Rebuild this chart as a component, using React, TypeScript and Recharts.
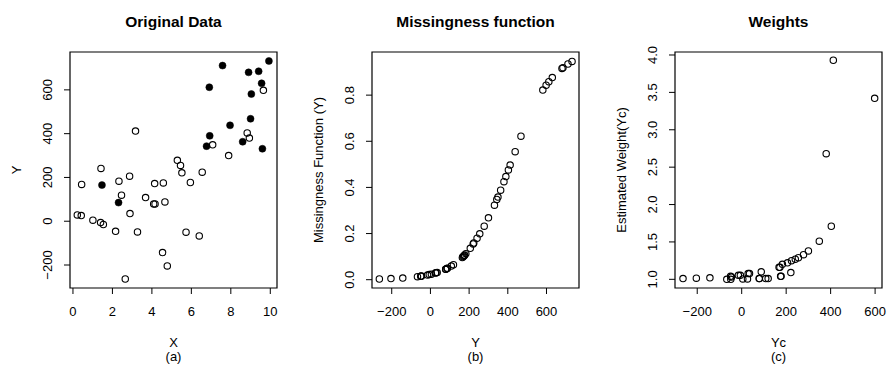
import { ScatterChart, Scatter, XAxis, YAxis, ReferenceArea } from 'recharts';

const W = 887;
const H = 365;
const BOX_TOP = 52;
const BOX_BOTTOM = 288;
const FONT = '"Liberation Sans", Arial, Helvetica, sans-serif';

// (a) Original Data: observed points (open) and missing points (filled)
const openX = [9.65, 3.17, 8.83, 8.94, 7.08, 7.89, 5.29, 5.45, 5.52, 6.55, 1.42, 2.87, 0.44, 2.33, 4.14, 4.58, 5.95, 2.46, 3.68, 4.66, 4.09, 4.16, 0.22, 0.42, 1.01, 1.4, 1.54, 2.89, 2.16, 3.27, 5.73, 6.4, 4.54, 4.78, 2.65];
const openY = [598, 412, 403, 380, 349, 300, 278, 255, 221, 224, 241, 206, 168, 183, 172, 175, 177, 119, 108, 88, 79, 79, 29, 26, 5, -6, -15, 35, -46, -49, -50, -67, -143, -204, -264];
const fillX = [7.58, 9.93, 8.9, 9.41, 9.56, 6.91, 9.04, 9.0, 7.96, 6.93, 6.77, 8.6, 9.6, 1.47, 2.31];
const fillY = [711, 732, 680, 685, 630, 612, 581, 468, 438, 390, 343, 363, 331, 165, 85];

// (b) Missingness function evaluated at every Y
const allY = [-264, -204, -143, -67, -50, -49, -46, -15, -6, 5, 26, 29, 35, 79, 79, 85, 88, 108, 119, 165, 168, 172, 175, 177, 183, 206, 221, 224, 241, 255, 278, 300, 331, 343, 349, 363, 380, 390, 403, 412, 438, 468, 581, 598, 612, 630, 680, 685, 711, 732];
const missP = [0.003, 0.005, 0.007, 0.013, 0.015, 0.015, 0.016, 0.02, 0.022, 0.024, 0.029, 0.03, 0.031, 0.045, 0.045, 0.048, 0.05, 0.059, 0.065, 0.096, 0.099, 0.102, 0.105, 0.107, 0.113, 0.136, 0.155, 0.159, 0.18, 0.199, 0.232, 0.268, 0.323, 0.348, 0.358, 0.388, 0.425, 0.447, 0.476, 0.497, 0.555, 0.622, 0.822, 0.843, 0.858, 0.876, 0.916, 0.919, 0.935, 0.946];

// (c) Estimated weights for the observed Yc
const ycVals = [-264, -204, -143, -67, -50, -49, -46, -15, -6, 5, 26, 29, 35, 79, 79, 88, 108, 119, 168, 172, 175, 177, 183, 206, 221, 224, 241, 255, 278, 300, 349, 380, 403, 412, 598];
const weights = [1.01, 1.015, 1.02, 1.0, 1.04, 1.0, 1.03, 1.054, 1.054, 1.005, 1.005, 1.077, 1.077, 1.01, 1.01, 1.1, 1.01, 1.01, 1.16, 1.16, 1.04, 1.04, 1.2, 1.22, 1.09, 1.25, 1.27, 1.29, 1.33, 1.38, 1.51, 2.68, 1.71, 3.93, 3.42];

const xTicksA = [0, 2, 4, 6, 8, 10];
const yTicksA = [-200, 0, 200, 400, 600];
const xTicksB = [-200, 0, 200, 400, 600];
const yTicksB = [0, 0.2, 0.4, 0.6, 0.8];
const xTicksC = [-200, 0, 200, 400, 600];
const yTicksC = [1, 1.5, 2, 2.5, 3, 3.5, 4];

const toPts = (xs: number[], ys: number[]) => xs.map((x, i) => ({ x, y: ys[i] }));

const fmt = (v: number, digits: number) => {
  const s = Math.abs(v).toFixed(digits);
  return v < 0 ? '\u2212' + s : s;
};

const openDot = (p: any) => <circle cx={p.cx} cy={p.cy} r={3.2} fill="none" stroke="#000" strokeWidth={1.1} />;
const fullDot = (p: any) => <circle cx={p.cx} cy={p.cy} r={3.5} fill="#000" stroke="#000" strokeWidth={0.5} />;

interface PanelProps {
  left: number;
  right: number;
  xDomain: [number, number];
  yDomain: [number, number];
  xTicks: number[];
  yTicks: number[];
  xDigits: number;
  yDigits: number;
  series: { data: { x: number; y: number }[]; filled?: boolean }[];
}

function Panel({ left, right, xDomain, yDomain, xTicks, yTicks, xDigits, yDigits, series }: PanelProps) {
  return (
    <div style={{ position: 'absolute', left: 0, top: 0 }}>
      <ScatterChart
        width={W}
        height={H}
        margin={{ top: BOX_TOP, bottom: H - BOX_BOTTOM - 30, left: left - 30, right: W - right }}
      >
        <XAxis
          type="number"
          dataKey="x"
          domain={xDomain}
          ticks={xTicks}
          interval={0}
          allowDataOverflow
          axisLine={false}
          tickSize={6}
          tickMargin={0}
          height={30}
          tickLine={{ stroke: '#000' }}
          tick={(p: any) => (
            <text x={p.x} y={p.y} dy={22} textAnchor="middle" fontSize={13} fontFamily={FONT} fill="#000">
              {fmt(p.payload.value, xDigits)}
            </text>
          )}
        />
        <YAxis
          type="number"
          dataKey="y"
          domain={yDomain}
          ticks={yTicks}
          interval={0}
          allowDataOverflow
          axisLine={false}
          tickSize={6}
          tickMargin={0}
          width={30}
          tickLine={{ stroke: '#000' }}
          tick={(p: any) => (
            <text
              x={p.x - 11.7}
              y={p.y}
              transform={`rotate(-90 ${p.x - 11.7} ${p.y})`}
              textAnchor="middle"
              fontSize={13}
              fontFamily={FONT}
              fill="#000"
            >
              {fmt(p.payload.value, yDigits)}
            </text>
          )}
        />
        <ReferenceArea
          x1={xDomain[0]}
          x2={xDomain[1]}
          y1={yDomain[0]}
          y2={yDomain[1]}
          fill="none"
          fillOpacity={0}
          stroke="#000"
          strokeWidth={1.2}
        />
        {series.map((s, i) => (
          <Scatter key={i} data={s.data} isAnimationActive={false} shape={s.filled ? fullDot : openDot} />
        ))}
      </ScatterChart>
    </div>
  );
}

const panels = [
  { left: 70, right: 277, title: 'Original Data', xlab: 'X', tag: '(a)', ylab: 'Y' },
  { left: 372, right: 579, title: 'Missingness function', xlab: 'Y', tag: '(b)', ylab: 'Missingness Function (Y)' },
  { left: 675, right: 882, title: 'Weights', xlab: 'Yc', tag: '(c)', ylab: 'Estimated Weight(Yc)' },
];

export default function App() {
  const midY = (BOX_TOP + BOX_BOTTOM) / 2;
  return (
    <div style={{ position: 'absolute', left: 0, top: 0, width: W, height: H, background: '#fff', fontFamily: FONT }}>
      <Panel
        left={70}
        right={277}
        xDomain={[-0.15, 10.34]}
        yDomain={[-305, 773]}
        xTicks={xTicksA}
        yTicks={yTicksA}
        xDigits={0}
        yDigits={0}
        series={[{ data: toPts(openX, openY) }, { data: toPts(fillX, fillY), filled: true }]}
      />
      <Panel
        left={372}
        right={579}
        xDomain={[-302, 768]}
        yDomain={[-0.036, 0.987]}
        xTicks={xTicksB}
        yTicks={yTicksB}
        xDigits={0}
        yDigits={1}
        series={[{ data: toPts(allY, missP) }]}
      />
      <Panel
        left={675}
        right={882}
        xDomain={[-300, 631]}
        yDomain={[0.884, 4.04]}
        xTicks={xTicksC}
        yTicks={yTicksC}
        xDigits={0}
        yDigits={1}
        series={[{ data: toPts(ycVals, weights) }]}
      />
      <svg width={W} height={H} style={{ position: 'absolute', left: 0, top: 0, pointerEvents: 'none' }}>
        {panels.map((p) => {
          const cx = (p.left + p.right) / 2;
          const lx = p.left - 49.5;
          return (
            <g key={p.title} fontFamily={FONT} fill="#000">
              <text x={cx} y={27.3} textAnchor="middle" fontSize={15.5} fontWeight="bold">
                {p.title}
              </text>
              <text x={cx} y={347.3} textAnchor="middle" fontSize={13}>
                {p.xlab}
              </text>
              <text x={cx} y={360.6} textAnchor="middle" fontSize={13}>
                {p.tag}
              </text>
              <text x={lx} y={midY} transform={`rotate(-90 ${lx} ${midY})`} textAnchor="middle" fontSize={13}>
                {p.ylab}
              </text>
            </g>
          );
        })}
      </svg>
    </div>
  );
}
